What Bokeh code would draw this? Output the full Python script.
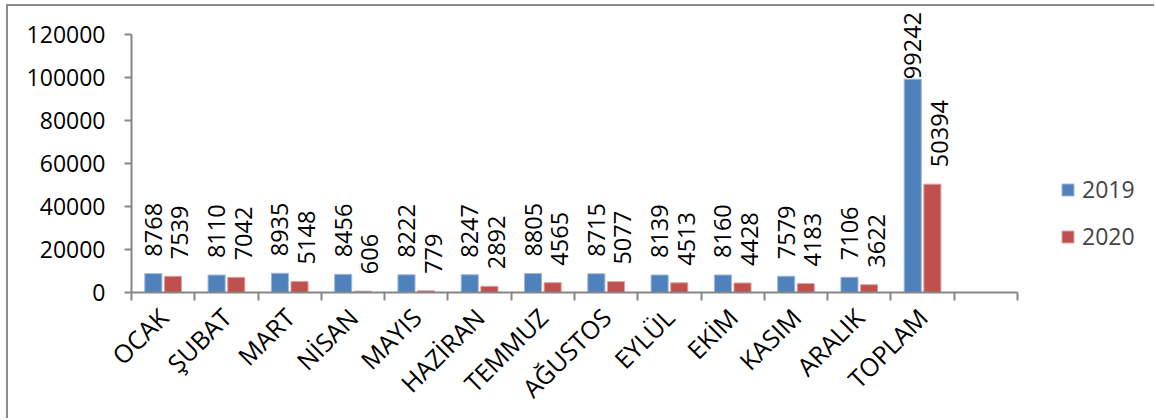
import math
from bokeh.plotting import figure
from bokeh.models import Range1d, FixedTicker, ColumnDataSource, Legend, LegendItem
from bokeh.core.properties import value
from bokeh.embed import file_html
from bokeh.resources import INLINE

# Monthly counts, 2019 vs 2020, plus yearly totals
months = ["OCAK", "ŞUBAT", "MART", "NİSAN", "MAYIS", "HAZİRAN", "TEMMUZ",
          "AĞUSTOS", "EYLÜL", "EKİM", "KASIM", "ARALIK", "TOPLAM"]
series_2019 = [8768, 8110, 8935, 8456, 8222, 8247, 8805, 8715, 8139, 8160, 7579, 7106, 99242]
series_2020 = [7539, 7042, 5148, 606, 779, 2892, 4565, 5077, 4513, 4428, 4183, 3622, 50394]
years = ["2019", "2020"]
y_ticks = [0, 20000, 40000, 60000, 80000, 100000, 120000]

FONT = "Open Sans"
FS_Y = "23px"
FS_LABEL = "23.5px"
FS_X = "25px"
BLUE = "#4F81BD"
RED = "#C0504D"
AXIS = "#868686"

n_slots = len(months) + 1          # one empty slot after the totals
y_max = y_ticks[-1]

# layout of the drawing area (pixels, relative to the figure's top-left)
fig_w, fig_h = 1148, 414
min_left = 123
axis_top = 28                      # where 120000 sits
plot_top = 2                       # frame extends above the axis for labels
axis_h = 258                       # pixel height of 0..120000
axis_w = 886                       # pixel width of the category slots
frame_w = fig_w - min_left         # frame runs on to the right edge (legend room)
frame_h = axis_top - plot_top + axis_h
y_end = y_max * frame_h / axis_h
x_end = n_slots * frame_w / axis_w

p = figure(width=fig_w, height=fig_h,
           x_range=Range1d(0, x_end), y_range=Range1d(0, y_end),
           output_backend="svg", toolbar_location=None,
           min_border_left=min_left, min_border_top=plot_top,
           min_border_right=0,
           min_border_bottom=fig_h - plot_top - frame_h)
p.margin = (4, 0, 0, 6)
p.styles = {"border-top": "2px solid #8c8c8c", "border-left": "2px solid #8c8c8c"}
p.outline_line_color = None
p.xgrid.visible = False
p.ygrid.visible = False
p.background_fill_color = "white"
p.border_fill_color = "white"

centers = [i + 0.5 for i in range(len(months))]
dodge = 0.155
bar_w = 0.27

src = ColumnDataSource(dict(
    x19=[c - dodge for c in centers], x20=[c + dodge for c in centers],
    v19=series_2019, v20=series_2020,
    t19=[str(v) for v in series_2019], t20=[str(v) for v in series_2020],
))

r19 = p.vbar(x="x19", top="v19", width=bar_w, source=src,
             fill_color=BLUE, line_color="#9db8db", line_width=1)
r20 = p.vbar(x="x20", top="v20", width=bar_w, source=src,
             fill_color=RED, line_color="#dba3a1", line_width=1)

# value labels, rotated, sitting above the bars; kept below the chart's top edge
gap = 17
char_px = 13.3
label_ceiling = 9                  # px below the figure top


def label_offsets(vals):
    offs = []
    for v in vals:
        bar_top = axis_top + axis_h * (1 - v / y_max)
        room = bar_top - label_ceiling - len(str(v)) * char_px
        offs.append(-min(gap, max(0, room)))
    return offs


src.data["o19"] = label_offsets(series_2019)
src.data["o20"] = label_offsets(series_2020)

for xs, vs, ts, os_, dx in (("x19", "v19", "t19", "o19", 0),
                            ("x20", "v20", "t20", "o20", 7)):
    p.text(x=xs, y=vs, text=ts, source=src,
           angle=math.pi / 2, text_align="left", text_baseline="middle",
           x_offset=dx, y_offset=os_,
           text_font=value(FONT), text_font_size=FS_LABEL, text_color="black")

# axes
yax = p.yaxis[0]
yax.ticker = FixedTicker(ticks=y_ticks)
yax.bounds = (0, y_max)
yax.axis_line_color = AXIS
yax.axis_line_width = 2
yax.major_tick_line_color = AXIS
yax.major_tick_line_width = 2
yax.major_tick_out = 7
yax.major_tick_in = 0
yax.minor_tick_line_color = None
yax.major_label_text_font = FONT
yax.major_label_text_font_size = FS_Y
yax.major_label_text_color = "black"
yax.major_label_standoff = 19
yax.formatter.use_scientific = False

xax = p.xaxis[0]
xax.ticker = FixedTicker(ticks=centers, minor_ticks=list(range(n_slots + 1)))
xax.bounds = (0, n_slots)
xax.major_label_overrides = {c: m for c, m in zip(centers, months)}
xax.axis_line_color = AXIS
xax.axis_line_width = 2
xax.major_tick_line_color = None
xax.major_tick_out = 0
xax.major_tick_in = 0
xax.minor_tick_line_color = AXIS
xax.minor_tick_line_width = 2
xax.minor_tick_out = 8
xax.minor_tick_in = 0
xax.major_label_orientation = math.pi / 4
xax.major_label_text_font = FONT
xax.major_label_text_font_size = FS_X
xax.major_label_text_color = "black"
xax.major_label_standoff = 12

legend = Legend(items=[LegendItem(label=years[0], renderers=[r19]),
                       LegendItem(label=years[1], renderers=[r20])],
                location=(axis_w + 43, 40))
legend.glyph_width = 15
legend.glyph_height = 15
legend.label_text_font = FONT
legend.label_text_font_size = FS_Y
legend.label_standoff = 7
legend.spacing = 15
legend.padding = 0
legend.margin = 0
legend.border_line_color = None
legend.background_fill_alpha = 0
p.add_layout(legend, "center")

open("out.html", "w").write(file_html(p, INLINE))
